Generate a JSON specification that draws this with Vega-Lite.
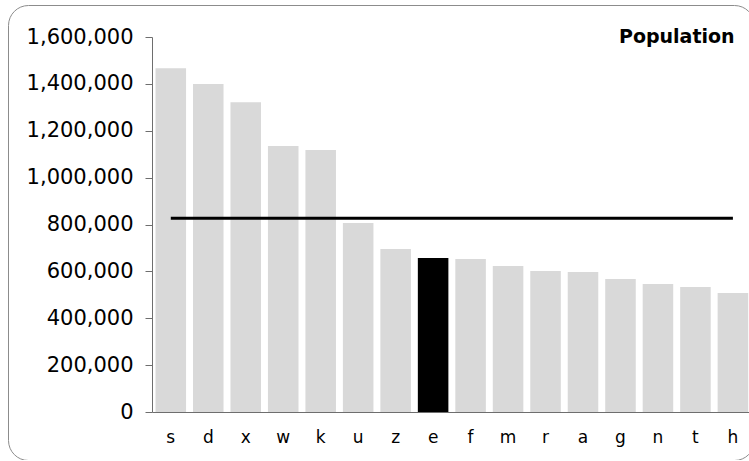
{
  "$schema": "https://vega.github.io/schema/vega-lite/v6.json",
  "width": 746,
  "height": 455,
  "autosize": {"type": "none"},
  "padding": {"left": 8, "top": 5, "right": 0, "bottom": 0},
  "background": "white",
  "config": {
    "font": "DejaVu Sans",
    "view": {"stroke": "#8c8c8c", "strokeWidth": 1, "cornerRadius": 20, "fill": "white"}
  },
  "title": {
    "text": "Population",
    "anchor": "start",
    "frame": "group",
    "orient": "top",
    "offset": 0,
    "font": "DejaVu Sans",
    "fontSize": 19,
    "fontWeight": "bold",
    "color": "black",
    "baseline": "alphabetic",
    "dx": 611,
    "dy": 57
  },
  "data": {
    "values": [
      {"city": "s", "pop": 1467000},
      {"city": "d", "pop": 1400000},
      {"city": "x", "pop": 1322000},
      {"city": "w", "pop": 1135000},
      {"city": "k", "pop": 1118000},
      {"city": "u", "pop": 806000},
      {"city": "z", "pop": 696000},
      {"city": "e", "pop": 657000},
      {"city": "f", "pop": 653000},
      {"city": "m", "pop": 623000},
      {"city": "r", "pop": 602000},
      {"city": "a", "pop": 597000},
      {"city": "g", "pop": 568000},
      {"city": "n", "pop": 546000},
      {"city": "t", "pop": 533000},
      {"city": "h", "pop": 508000}
    ]
  },
  "encoding": {
    "x": {
      "field": "city",
      "type": "nominal",
      "sort": null,
      "scale": {"range": [144, 743.7], "paddingInner": 0.185, "paddingOuter": 0.094},
      "axis": {
        "title": null,
        "labelAngle": 0,
        "ticks": false,
        "labelFontSize": 17,
        "labelColor": "black",
        "labelFont": "DejaVu Sans",
        "domainColor": "#6e6e6e",
        "domainWidth": 1,
        "labelPadding": 17,
        "offset": -48,
        "grid": false
      }
    }
  },
  "layer": [
    {
      "mark": {"type": "bar"},
      "encoding": {
        "y": {
          "field": "pop",
          "type": "quantitative",
          "scale": {"domain": [0, 1600000], "range": [407, 32], "nice": false},
          "axis": {
            "title": null,
            "values": [0, 200000, 400000, 600000, 800000, 1000000, 1200000, 1400000, 1600000],
            "format": ",d",
            "labelFontSize": 21,
            "labelFont": "DejaVu Sans",
            "labelColor": "black",
            "domainColor": "#6e6e6e",
            "tickColor": "#6e6e6e",
            "tickSize": 7,
            "labelPadding": 12,
            "grid": false,
            "offset": -144
          }
        },
        "color": {
          "condition": {"test": "datum.city === 'e'", "value": "black"},
          "value": "#d9d9d9"
        }
      }
    },
    {
      "transform": [{"joinaggregate": [{"op": "mean", "field": "pop", "as": "avg"}]}],
      "mark": {"type": "line", "color": "black", "strokeWidth": 3},
      "encoding": {
        "y": {"field": "avg", "type": "quantitative"}
      }
    }
  ]
}
